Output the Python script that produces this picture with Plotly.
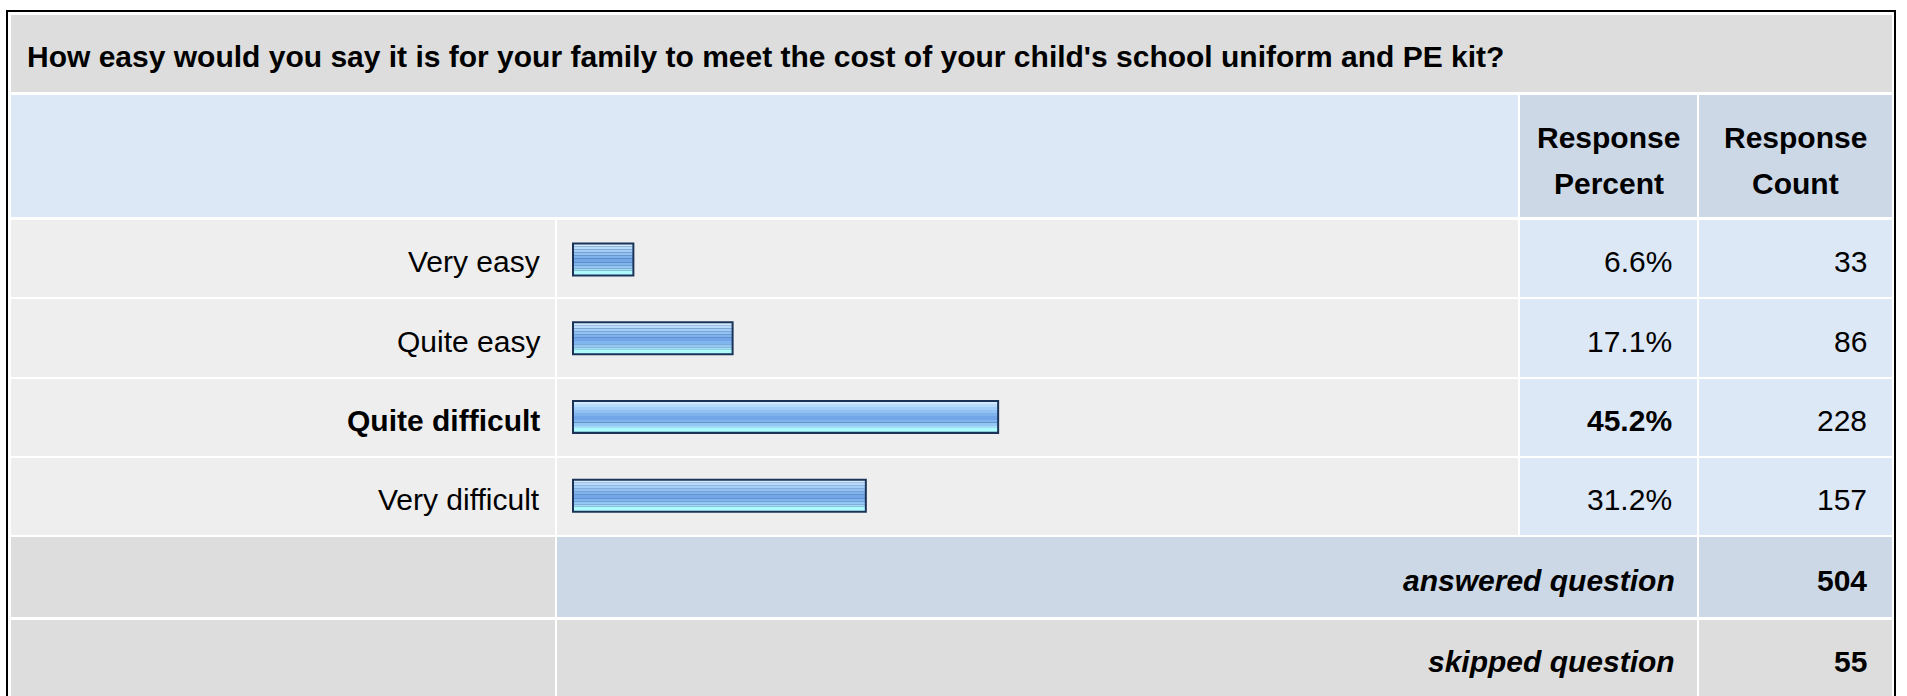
import plotly.graph_objects as go

# data
question = "How easy would you say it is for your family to meet the cost of your child's school uniform and PE kit?"
answers = ["Very easy", "Quite easy", "Quite difficult", "Very difficult"]
percents = [6.6, 17.1, 45.2, 31.2]
counts = [33, 86, 228, 157]
answered = 504
skipped = 55
header_percent = ["Response", "Percent"]
header_count = ["Response", "Count"]

W, H = 1907, 696
FONT = "Liberation Sans, Arial, sans-serif"

# table geometry (pixels, from top-left)
cols = [(11, 555), (557, 1518), (1520, 1697), (1699, 1892)]
title_row = (15, 92)
header_row = (95, 217)
data_rows = [(220, 297), (299, 377), (379, 456), (458, 535)]
answered_row = (537, 617)
skipped_row = (620, 697)
bar_x0, bar_x1 = 572, 1517          # 0% .. 100%
bar_h = 34
border = 2
text_dy = 3   # nudge text down to sit like the html baseline

GRAY = "#dddddd"
LIGHT = "#eeeeee"
BLUE = "#dde8f6"
STEEL = "#ccd8e6"

stripes = [(2, "#d2e9ff"), (3, "#b7dbfd"), (3, "#a3cef9"), (3, "#92c1f4"),
           (3, "#80b2ec"), (4, "#72a6e8"), (3, "#80b5ee"), (3, "#93c8f5"),
           (2, "#a3dcf9"), (4, "#aefbfe")]


def px(x):
    return x / W


def py(y):
    return 1 - y / H


def cell(x0, x1, y0, y1, color):
    return dict(type="rect", xref="paper", yref="paper", layer="below",
                x0=px(x0), x1=px(x1), y0=py(y1), y1=py(y0),
                fillcolor=color, line=dict(width=0))


shapes = []
shapes.append(cell(cols[0][0], cols[3][1], *title_row, GRAY))
shapes.append(cell(cols[0][0], cols[1][1], *header_row, BLUE))
shapes.append(cell(*cols[2], *header_row, STEEL))
shapes.append(cell(*cols[3], *header_row, STEEL))
for r in data_rows:
    shapes.append(cell(*cols[0], *r, LIGHT))
    shapes.append(cell(*cols[1], *r, LIGHT))
    shapes.append(cell(*cols[2], *r, BLUE))
    shapes.append(cell(*cols[3], *r, BLUE))
shapes.append(cell(*cols[0], *answered_row, GRAY))
shapes.append(cell(cols[1][0], cols[2][1], *answered_row, STEEL))
shapes.append(cell(*cols[3], *answered_row, STEEL))
shapes.append(cell(*cols[0], *skipped_row, GRAY))
shapes.append(cell(cols[1][0], cols[2][1], *skipped_row, GRAY))
shapes.append(cell(*cols[3], *skipped_row, GRAY))
# outer frame
shapes.append(dict(type="rect", xref="paper", yref="paper", layer="above",
                   x0=px(7), x1=px(1895), y0=py(720), y1=py(11),
                   line=dict(color="#000000", width=2), fillcolor="rgba(0,0,0,0)"))

fig = go.Figure()

band = (data_rows[-1][1] - data_rows[0][0]) / len(answers)
unit_px = (bar_x1 - bar_x0) / 100
hw = bar_h / band
inset = border / unit_px

fig.add_trace(go.Bar(y=answers, x=percents, orientation="h", width=hw, offset=-hw / 2,
                     marker=dict(color="#1b3358", line=dict(width=0)), hoverinfo="skip"))
top = border
for h, c in stripes:
    fig.add_trace(go.Bar(y=answers, x=[p - 2 * inset for p in percents], base=inset,
                         orientation="h", width=h / band, offset=-hw / 2 + top / band,
                         marker=dict(color=c, line=dict(width=0)), hoverinfo="skip"))
    top += h

ann = []


def text(x, y, s, anchor="right", size=30):
    ann.append(dict(xref="paper", yref="paper", x=px(x), y=py(y + text_dy), text=s,
                    xanchor=anchor, yanchor="middle", showarrow=False,
                    borderpad=0, borderwidth=0,
                    font=dict(family=FONT, size=size, color="#000000")))


def mid(r):
    return (r[0] + r[1]) / 2


text(27, mid(title_row), f"<b>{question}</b>", anchor="left")
for col, lines in ((cols[2], header_percent), (cols[3], header_count)):
    cx = (col[0] + col[1]) / 2
    text(cx, mid(header_row) - 22, f"<b>{lines[0]}</b>", anchor="center")
    text(cx, mid(header_row) + 24, f"<b>{lines[1]}</b>", anchor="center")

top_p = max(percents)
for r, a, p, n in zip(data_rows, answers, percents, counts):
    b = p == top_p
    text(cols[0][1] - 15, mid(r), f"<b>{a}</b>" if b else a)
    ps = f"{p:.1f}%"
    text(cols[2][1] - 25, mid(r), f"<b>{ps}</b>" if b else ps)
    text(cols[3][1] - 25, mid(r), str(n))

text(cols[2][1] - 22, mid(answered_row), "<b><i>answered question</i></b>")
text(cols[3][1] - 25, mid(answered_row), f"<b>{answered}</b>")
text(cols[2][1] - 22, mid(skipped_row), "<b><i>skipped question</i></b>")
text(cols[3][1] - 25, mid(skipped_row), f"<b>{skipped}</b>")

fig.update_layout(
    width=W, height=H,
    margin=dict(l=0, r=0, t=0, b=0),
    paper_bgcolor="#ffffff", plot_bgcolor="rgba(0,0,0,0)",
    barmode="overlay", showlegend=False,
    shapes=shapes, annotations=ann,
    xaxis=dict(domain=[px(bar_x0), px(bar_x1)], range=[0, 100], visible=False, fixedrange=True),
    yaxis=dict(domain=[py(data_rows[-1][1]), py(data_rows[0][0])], type="category",
               categoryorder="array", categoryarray=answers,
               range=[len(answers) - 0.5, -0.5], visible=False, fixedrange=True),
)

fig.write_html("out.html", config={"displayModeBar": False},
               post_script="document.body.style.margin='0';")
